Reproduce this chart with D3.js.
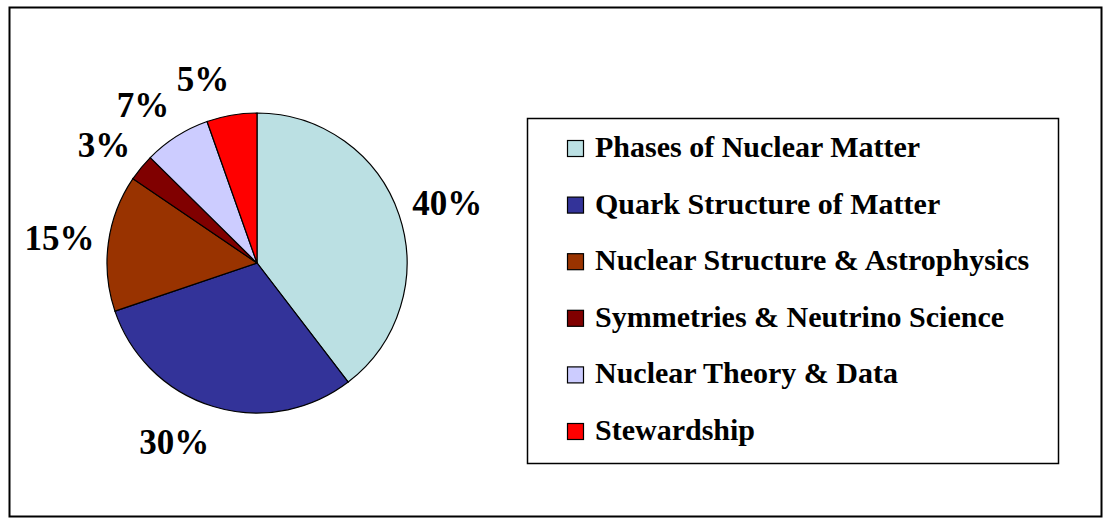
<!DOCTYPE html>
<html>
<head>
<meta charset="utf-8">
<script src="https://cdn.jsdelivr.net/npm/d3@7"></script>
<style>
  body { margin: 0; background: #fff; }
  svg { display: block; font-family: "Liberation Serif", "Times New Roman", serif; font-weight: bold; }
</style>
</head>
<body>
<div id="chart"></div>
<script>
// data
const categories = [
  "Phases of Nuclear Matter",
  "Quark Structure of Matter",
  "Nuclear Structure & Astrophysics",
  "Symmetries & Neutrino Science",
  "Nuclear Theory & Data",
  "Stewardship"
];
const shares = [39.6, 30.2, 14.7, 2.9, 7.2, 5.4];
const colors = ["#BBE0E3", "#333399", "#993300", "#800000", "#CCCCFF", "#FF0000"];

const width = 1106, height = 519;
const cx = 257, cy = 263, radius = 150;

const svg = d3.select("#chart").append("svg")
    .attr("width", width)
    .attr("height", height);

// outer chart border
svg.append("rect")
    .attr("x", 9.5).attr("y", 7.5)
    .attr("width", 1092).attr("height", 509)
    .attr("fill", "#fff")
    .attr("stroke", "#000")
    .attr("stroke-width", 2);

const data = categories.map((c, i) => ({ name: c, value: shares[i], color: colors[i] }));

const pie = d3.pie().value(d => d.value).sort(null);
const arc = d3.arc().innerRadius(0).outerRadius(radius);
const arcs = pie(data);

const g = svg.append("g").attr("transform", "translate(" + cx + "," + cy + ")");

g.selectAll("path")
    .data(arcs)
    .enter()
    .append("path")
    .attr("d", arc)
    .attr("fill", d => d.data.color)
    .attr("stroke", "#000")
    .attr("stroke-width", 1.2);

// percentage labels: anchored just outside the rim, left half right-aligned
const labelArc = d3.arc().innerRadius(radius + 14).outerRadius(radius + 14);
const halfBox = 23;

g.selectAll(".lbl")
    .data(arcs)
    .enter()
    .append("text")
    .attr("class", "lbl")
    .style("font-size", "35px")
    .attr("dy", "0.35em")
    .attr("text-anchor", d => ((d.startAngle + d.endAngle) / 2 < Math.PI ? "start" : "end"))
    .attr("x", d => labelArc.centroid(d)[0])
    .attr("y", d => {
        const a = (d.startAngle + d.endAngle) / 2;
        return labelArc.centroid(d)[1] - Math.cos(a) * halfBox;
    })
    .text(d => Math.round(d.data.value) + "%");

// legend
const legend = svg.append("g");
legend.append("rect")
    .attr("x", 527.5).attr("y", 118.5)
    .attr("width", 531).attr("height", 345)
    .attr("fill", "#fff")
    .attr("stroke", "#000")
    .attr("stroke-width", 1.5);

const rowY = d3.scalePoint()
    .domain(categories)
    .range([157, 440]);

const items = legend.selectAll(".item")
    .data(data)
    .enter()
    .append("g")
    .attr("class", "item")
    .attr("transform", d => "translate(0," + rowY(d.name) + ")");

items.append("rect")
    .attr("x", 567.5).attr("y", -16.5)
    .attr("width", 16).attr("height", 16)
    .attr("fill", d => d.color)
    .attr("stroke", "#000")
    .attr("stroke-width", 1.2);

items.append("text")
    .attr("x", 595)
    .attr("y", 0)
    .style("font-size", "30px")
    .text(d => d.name);
</script>
</body>
</html>
